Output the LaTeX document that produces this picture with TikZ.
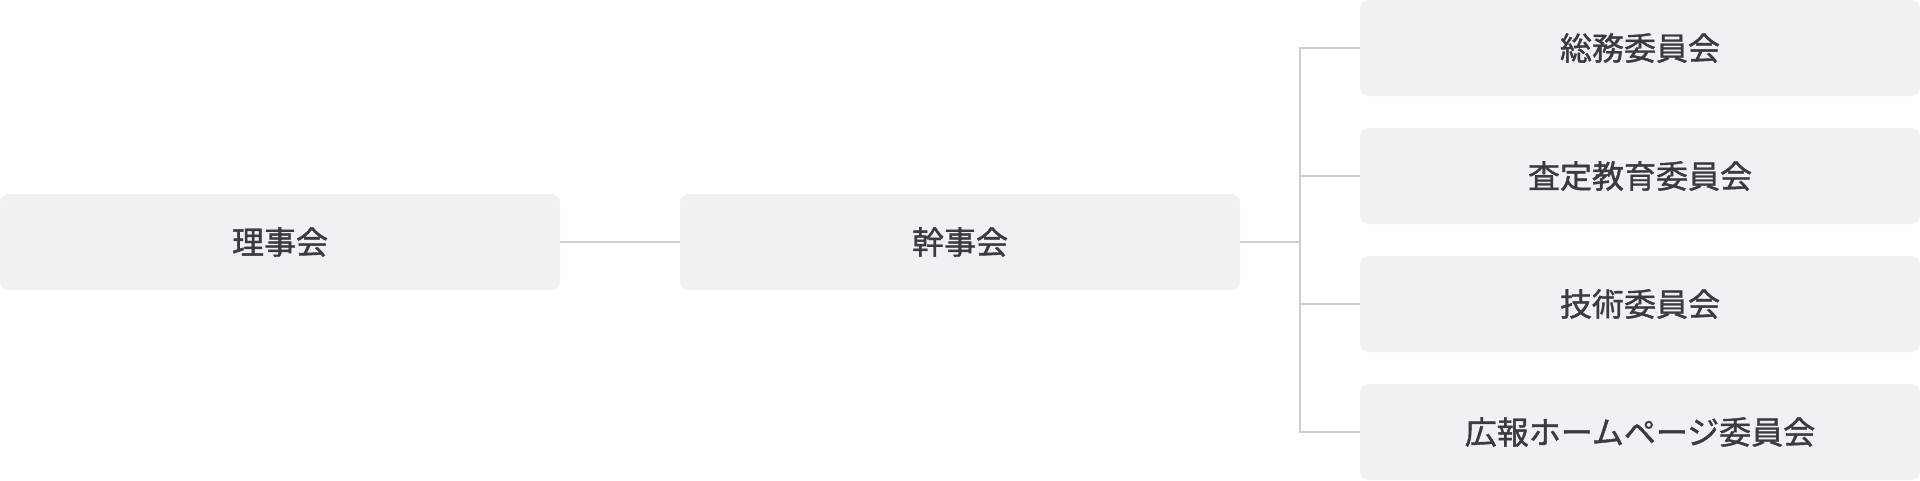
\documentclass[tikz,border=0pt]{standalone}
\usepackage{fontspec}
\setmainfont{Noto Sans CJK JP}[FakeBold=1.2]
\usepackage{xcolor}
\usetikzlibrary{positioning}
\definecolor{boxfill}{HTML}{F0F1F5}
\definecolor{linegray}{HTML}{CBCED3}
\definecolor{textdark}{HTML}{383B41}

\begin{document}
\begin{tikzpicture}[x=1pt, y=-1pt,
	org/.style={fill=boxfill, rounded corners=8pt, minimum width=560pt, minimum height=96pt, inner sep=0pt, text=textdark, font=\fontsize{32pt}{36pt}\selectfont},
	link/.style={draw=linegray, line width=2pt}]
	\useasboundingbox (0,0) rectangle (1920,480);
	% Boxes
	\node[org] (rijikai) at (280,242) {理事会};
	\node[org] (kanjikai) at (960,242) {幹事会};
	\node[org] (somu) at (1640,48) {総務委員会};
	\node[org] (satei) at (1640,176) {査定教育委員会};
	\node[org] (gijutsu) at (1640,304) {技術委員会};
	\node[org] (koho) at (1640,432) {広報ホームページ委員会};
	% Connectors
	\coordinate (hub) at (1300,242);
	\draw[link] (rijikai.east) -- (kanjikai.west);
	\draw[link] (kanjikai.east) -- (hub);
	\draw[link] (hub) |- (somu.west);
	\draw[link] (hub) |- (satei.west);
	\draw[link] (hub) |- (gijutsu.west);
	\draw[link] (hub) |- (koho.west);
\end{tikzpicture}
\end{document}
